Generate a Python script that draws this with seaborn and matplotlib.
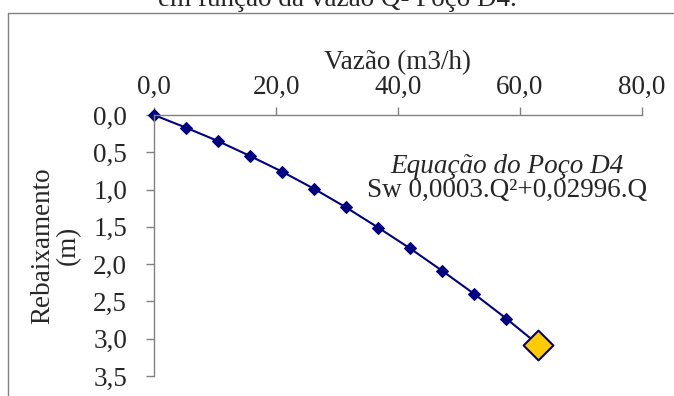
import matplotlib
matplotlib.use("Agg")
import matplotlib.pyplot as plt
from matplotlib.lines import Line2D
import seaborn as sns
import pandas as pd

# Pumping test readings: flow (m3/h) and drawdown (m)
vazao = [0.0, 5.25, 10.5, 15.75, 21.0, 26.25, 31.5, 36.75, 42.0, 47.25, 52.5, 57.75]
rebaixamento = [0.0, 0.17, 0.35, 0.55, 0.76, 0.99, 1.24, 1.51, 1.79, 2.09, 2.40, 2.73]

# Design point of the well
vazao_proj = [63.0]
rebaixamento_proj = [3.08]

x_ticks = [0, 20, 40, 60, 80]
x_tick_labels = ["0,0", "20,0", "40,0", "60,0", "80,0"]
y_ticks = [0.0, 0.5, 1.0, 1.5, 2.0, 2.5, 3.0, 3.5]
y_tick_labels = ["0,0", "0,5", "1,0", "1,5", "2,0", "2,5", "3,0", "3,5"]

titulo = "em função da vazão Q- Poço D4."
eixo_x = "Vazão (m3/h)"
eixo_y = "Rebaixamento\n(m)"
equacao_titulo = "Equação do Poço D4"
equacao = "Sw 0,0003.Q²+0,02996.Q"

sns.set_style("white")
plt.rcParams["font.family"] = ["Liberation Serif", "DejaVu Serif"]

navy = "#000080"
gold = "#FFCC00"
grey = "#808080"
fs = 19.5

df = pd.DataFrame({"Q": vazao, "Sw": rebaixamento})
df_proj = pd.DataFrame({"Q": vazao_proj, "Sw": rebaixamento_proj})

fig = plt.figure(figsize=(6.74, 3.96), dpi=100)
ax = fig.add_axes([154 / 674, 1 - 376 / 396, (642 - 154) / 674, (376 - 115) / 396])

sns.lineplot(data=df, x="Q", y="Sw", ax=ax, color=navy, linewidth=1.5,
             marker="D", markersize=6.5, markeredgecolor=navy, clip_on=False)
# Segment joining the last reading to the design point
ax.plot([vazao[-1], vazao_proj[0]], [rebaixamento[-1], rebaixamento_proj[0]],
        color=navy, linewidth=1.5, clip_on=False, zorder=2)
sns.scatterplot(data=df_proj, x="Q", y="Sw", ax=ax, marker="D", s=230,
                color=gold, edgecolor=navy, linewidth=1.5, zorder=3, clip_on=False)

ax.set_xlim(0, 80)
ax.set_ylim(3.5, 0)
ax.xaxis.tick_top()
ax.xaxis.set_label_position("top")
ax.set_xticks(x_ticks)
ax.set_xticklabels(x_tick_labels, fontsize=fs)
ax.set_yticks(y_ticks)
ax.set_yticklabels(y_tick_labels, fontsize=fs)
ax.tick_params(axis="both", direction="out", length=5.8, width=1, color=grey,
               top=True, left=True, bottom=False, right=False)
ax.tick_params(axis="x", pad=5)
ax.tick_params(axis="y", pad=13.5)

ax.set_xlabel(eixo_x, fontsize=fs, labelpad=4)
ax.set_ylabel(eixo_y, fontsize=fs, labelpad=9, linespacing=1.0)

for side in ["bottom", "right"]:
    ax.spines[side].set_visible(False)
for side in ["top", "left"]:
    ax.spines[side].set_color(grey)
    ax.spines[side].set_linewidth(1)

ax.text(0.723, 0.778, equacao_titulo, transform=ax.transAxes, ha="center",
        va="baseline", fontsize=fs, style="italic")
ax.text(0.723, 0.686, equacao, transform=ax.transAxes, ha="center",
        va="baseline", fontsize=fs)

# Chart frame (top and left edges) and clipped title above it
fig.add_artist(Line2D([7.5 / 674, 1.0], [1 - 12.5 / 396, 1 - 12.5 / 396],
                      transform=fig.transFigure, color=grey, linewidth=1))
fig.add_artist(Line2D([7.5 / 674, 7.5 / 674], [0.0, 1 - 12.5 / 396],
                      transform=fig.transFigure, color=grey, linewidth=1))
fig.text(0.5, 1 - 6.5 / 396, titulo, ha="center", va="baseline", fontsize=fs)

fig.savefig("out.png", dpi=100)
